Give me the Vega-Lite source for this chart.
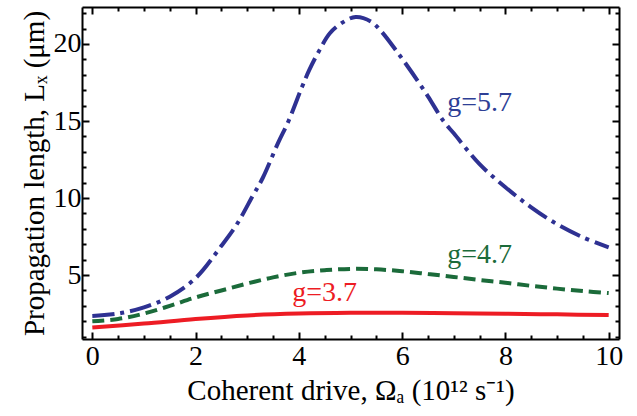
{
  "$schema": "https://vega.github.io/schema/vega-lite/v6.json",
  "width": 537,
  "height": 332,
  "autosize": {"type": "none"},
  "padding": {"left": 82, "top": 7, "right": 18, "bottom": 77},
  "background": "white",
  "config": {
    "view": {"stroke": null},
    "font": "Liberation Serif",
    "axis": {
      "grid": false,
      "domainColor": "black",
      "domainWidth": 2,
      "tickColor": "black",
      "tickWidth": 2,
      "labelFont": "Liberation Serif",
      "labelFontSize": 28,
      "labelColor": "black",
      "titleFont": "Liberation Serif",
      "titleFontSize": 29,
      "titleFontWeight": "normal",
      "titleColor": "black"
    }
  },
  "datasets": {
    "curves": [
      {"g": "5.7", "x": 0, "y": 2.35}, {"g": "5.7", "x": 0.5, "y": 2.5}, {"g": "5.7", "x": 1.0, "y": 2.9},
      {"g": "5.7", "x": 1.5, "y": 3.6}, {"g": "5.7", "x": 2.0, "y": 4.8}, {"g": "5.7", "x": 2.5, "y": 6.9},
      {"g": "5.7", "x": 2.8, "y": 8.3}, {"g": "5.7", "x": 3.1, "y": 10.1}, {"g": "5.7", "x": 3.3, "y": 11.3},
      {"g": "5.7", "x": 3.6, "y": 13.6}, {"g": "5.7", "x": 3.8, "y": 15.0}, {"g": "5.7", "x": 4.06, "y": 17.2},
      {"g": "5.7", "x": 4.2, "y": 18.3}, {"g": "5.7", "x": 4.4, "y": 19.6}, {"g": "5.7", "x": 4.6, "y": 20.7},
      {"g": "5.7", "x": 4.85, "y": 21.4}, {"g": "5.7", "x": 5.1, "y": 21.75}, {"g": "5.7", "x": 5.4, "y": 21.45},
      {"g": "5.7", "x": 5.6, "y": 20.8}, {"g": "5.7", "x": 5.9, "y": 19.5}, {"g": "5.7", "x": 6.2, "y": 18.1},
      {"g": "5.7", "x": 6.5, "y": 16.6}, {"g": "5.7", "x": 6.8, "y": 15.0}, {"g": "5.7", "x": 7.0, "y": 14.2},
      {"g": "5.7", "x": 7.5, "y": 12.2}, {"g": "5.7", "x": 8.0, "y": 10.7}, {"g": "5.7", "x": 8.5, "y": 9.4},
      {"g": "5.7", "x": 9.0, "y": 8.3}, {"g": "5.7", "x": 9.5, "y": 7.45}, {"g": "5.7", "x": 10.0, "y": 6.8},
      {"g": "4.7", "x": 0, "y": 2.0}, {"g": "4.7", "x": 0.5, "y": 2.15}, {"g": "4.7", "x": 1.0, "y": 2.5},
      {"g": "4.7", "x": 1.5, "y": 3.0}, {"g": "4.7", "x": 2.0, "y": 3.55}, {"g": "4.7", "x": 2.5, "y": 4.0},
      {"g": "4.7", "x": 3.0, "y": 4.45}, {"g": "4.7", "x": 3.5, "y": 4.85}, {"g": "4.7", "x": 4.0, "y": 5.15},
      {"g": "4.7", "x": 4.5, "y": 5.32}, {"g": "4.7", "x": 5.0, "y": 5.4}, {"g": "4.7", "x": 5.5, "y": 5.37},
      {"g": "4.7", "x": 6.0, "y": 5.25}, {"g": "4.7", "x": 6.5, "y": 5.07}, {"g": "4.7", "x": 7.0, "y": 4.88},
      {"g": "4.7", "x": 7.5, "y": 4.68}, {"g": "4.7", "x": 8.0, "y": 4.5}, {"g": "4.7", "x": 8.5, "y": 4.3},
      {"g": "4.7", "x": 9.0, "y": 4.12}, {"g": "4.7", "x": 9.5, "y": 3.96}, {"g": "4.7", "x": 10.0, "y": 3.83},
      {"g": "3.7", "x": 0, "y": 1.6}, {"g": "3.7", "x": 1.0, "y": 1.85}, {"g": "3.7", "x": 2.0, "y": 2.15},
      {"g": "3.7", "x": 3.0, "y": 2.38}, {"g": "3.7", "x": 4.0, "y": 2.5}, {"g": "3.7", "x": 5.0, "y": 2.55},
      {"g": "3.7", "x": 6.0, "y": 2.55}, {"g": "3.7", "x": 7.0, "y": 2.52}, {"g": "3.7", "x": 8.0, "y": 2.49},
      {"g": "3.7", "x": 9.0, "y": 2.45}, {"g": "3.7", "x": 10.0, "y": 2.4}
    ],
    "labels": [
      {"label": "g=5.7", "g": "5.7", "x": 7.5, "y": 16.2},
      {"label": "g=4.7", "g": "4.7", "x": 7.5, "y": 6.3},
      {"label": "g=3.7", "g": "3.7", "x": 4.5, "y": 3.85}
    ]
  },
  "resolve": {"axis": {"x": "independent", "y": "independent"}},
  "layer": [
    {
      "data": {"name": "curves"},
      "transform": [{"filter": "datum.g === '5.7'"}],
      "mark": {"type": "line", "color": "#2e3192", "strokeWidth": 4, "strokeDash": [22, 6, 4, 6], "interpolate": "catmull-rom"},
      "encoding": {
        "x": {"field": "x", "type": "quantitative",
          "scale": {"domain": [-0.2, 10.2], "nice": false, "zero": false},
          "axis": {"orient": "bottom", "values": [0, 2, 4, 6, 8, 10], "tickSize": -7, "labelPadding": 10, "title": "Coherent drive, Ωₐ (10¹² s⁻¹)", "titlePadding": 6, "labelFlush": false}},
        "y": {"field": "y", "type": "quantitative",
          "scale": {"domain": [0.85, 22.4], "nice": false, "zero": false},
          "axis": {"orient": "left", "values": [5, 10, 15, 20], "tickSize": -7, "labelPadding": 8, "title": "Propagation length, Lₓ (μm)", "titlePadding": 4}}
      }
    },
    {
      "data": {"name": "curves"},
      "transform": [{"filter": "datum.g === '4.7'"}],
      "mark": {"type": "line", "color": "#1b6b3a", "strokeWidth": 4, "strokeDash": [12, 6], "interpolate": "catmull-rom"},
      "encoding": {
        "x": {"field": "x", "type": "quantitative",
          "axis": {"orient": "bottom", "values": [0.5, 1, 1.5, 2.5, 3, 3.5, 4.5, 5, 5.5, 6.5, 7, 7.5, 8.5, 9, 9.5], "tickSize": -4, "labels": false, "domain": false, "title": null}},
        "y": {"field": "y", "type": "quantitative",
          "axis": {"orient": "left", "values": [1, 2, 3, 4, 6, 7, 8, 9, 11, 12, 13, 14, 16, 17, 18, 19, 21, 22], "tickSize": -4, "labels": false, "domain": false, "title": null}}
      }
    },
    {
      "data": {"name": "curves"},
      "transform": [{"filter": "datum.g === '3.7'"}],
      "mark": {"type": "line", "color": "#ed1c24", "strokeWidth": 4, "interpolate": "catmull-rom"},
      "encoding": {
        "x": {"field": "x", "type": "quantitative",
          "axis": {"orient": "top", "values": [0, 2, 4, 6, 8, 10], "tickSize": -7, "labels": false, "title": null}},
        "y": {"field": "y", "type": "quantitative",
          "axis": {"orient": "right", "values": [5, 10, 15, 20], "tickSize": -7, "labels": false, "title": null}}
      }
    },
    {
      "data": {"name": "labels"},
      "mark": {"type": "text", "font": "Liberation Serif", "fontSize": 28, "align": "center", "baseline": "middle"},
      "encoding": {
        "x": {"field": "x", "type": "quantitative",
          "axis": {"orient": "top", "values": [0.5, 1, 1.5, 2.5, 3, 3.5, 4.5, 5, 5.5, 6.5, 7, 7.5, 8.5, 9, 9.5], "tickSize": -4, "labels": false, "domain": false, "title": null}},
        "y": {"field": "y", "type": "quantitative",
          "axis": {"orient": "right", "values": [1, 2, 3, 4, 6, 7, 8, 9, 11, 12, 13, 14, 16, 17, 18, 19, 21, 22], "tickSize": -4, "labels": false, "domain": false, "title": null}},
        "text": {"field": "label", "type": "nominal"},
        "color": {"field": "g", "type": "nominal", "legend": null,
          "scale": {"domain": ["5.7", "4.7", "3.7"], "range": ["#2e3f96", "#1b6b3a", "#ed1c24"]}}
      }
    }
  ]
}
